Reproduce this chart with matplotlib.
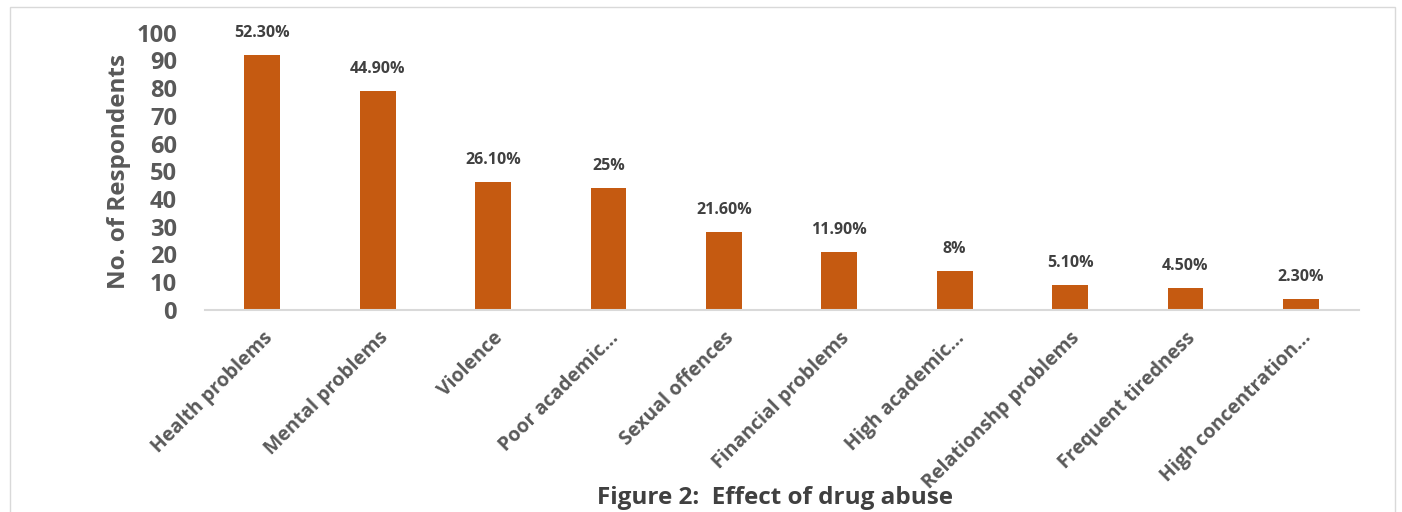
import matplotlib
matplotlib.use("Agg")
import matplotlib.pyplot as plt
from matplotlib.patches import Rectangle

categories = ["Health problems", "Mental problems", "Violence", "Poor academic...",
              "Sexual offences", "Financial problems", "High academic...",
              "Relationshp problems", "Frequent tiredness", "High concentration..."]
respondents = [92, 79, 46, 44, 28, 21, 14, 9, 8, 4]
percent_labels = ["52.30%", "44.90%", "26.10%", "25%", "21.60%", "11.90%",
                  "8%", "5.10%", "4.50%", "2.30%"]
yticks = [0, 10, 20, 30, 40, 50, 60, 70, 80, 90, 100]

plt.rcParams['font.family'] = ['Open Sans', 'DejaVu Sans']

fig = plt.figure(figsize=(14.02, 5.12), dpi=100)
ax = fig.add_axes([0.146, 0.395, 0.823, 0.541])

x = range(len(categories))
bars = ax.bar(x, respondents, width=0.31, color="#C55A11")
for b, lab in zip(bars, percent_labels):
    ax.text(b.get_x() + b.get_width() / 2, b.get_height() + 5, lab,
            ha="center", va="bottom", fontsize=11.5, fontweight="bold", color="#404040")

ax.set_xlim(-0.5, len(categories) - 0.5)
ax.set_ylim(0, 100)
ax.set_yticks(yticks)
ax.set_yticklabels([str(t) for t in yticks], fontsize=17, fontweight="bold", color="#595959")
ax.set_xticks(list(x))
ax.set_xticklabels(categories, rotation=45, ha="right", rotation_mode="anchor",
                   fontsize=14, fontweight="bold", color="#595959")
ax.tick_params(axis="y", length=0, pad=20)
ax.tick_params(axis="x", length=0, pad=13)
for s in ["top", "right", "left"]:
    ax.spines[s].set_visible(False)
ax.spines["bottom"].set_color("#D9D9D9")
ax.spines["bottom"].set_linewidth(1.5)
ax.set_ylabel("No. of Respondents", fontsize=17.5, fontweight="bold", color="#595959", labelpad=4)

fig.text(0.553, 0.028, "Figure 2:  Effect of drug abuse", ha="center", va="center",
         fontsize=17.5, fontweight="bold", color="#404040")

fig.patches.append(Rectangle((0.007, -0.01), 0.988, 0.997, transform=fig.transFigure,
                             fill=False, edgecolor="#D9D9D9", linewidth=1))

fig.savefig("out.png", dpi=100)
